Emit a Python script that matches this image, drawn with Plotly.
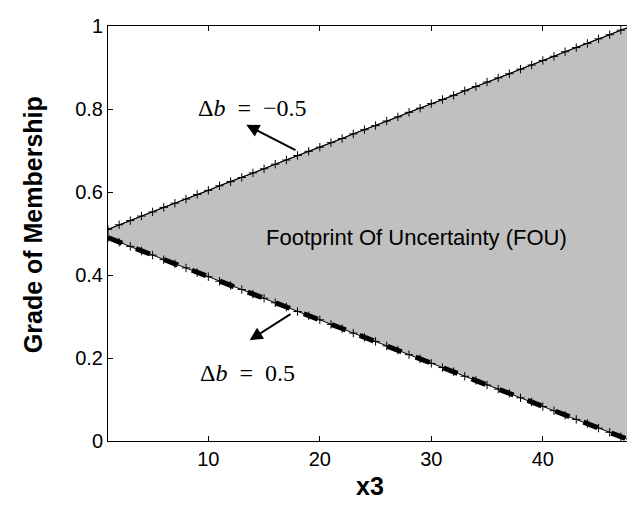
import plotly.graph_objects as go

# x positions of the sampled membership-function points
x_vals = [1, 2, 3, 4, 5, 6, 7, 8, 9, 10, 11, 12, 13, 14, 15, 16, 17, 18, 19, 20,
          21, 22, 23, 24, 25, 26, 27, 28, 29, 30, 31, 32, 33, 34, 35, 36, 37, 38, 39, 40,
          41, 42, 43, 44, 45, 46, 47, 48]
# upper membership function (Δb = -0.5)
upper_mf = [0.510, 0.521, 0.531, 0.542, 0.552, 0.563, 0.573, 0.583, 0.594, 0.604,
            0.615, 0.625, 0.635, 0.646, 0.656, 0.667, 0.677, 0.688, 0.698, 0.708,
            0.719, 0.729, 0.740, 0.750, 0.760, 0.771, 0.781, 0.792, 0.802, 0.813,
            0.823, 0.833, 0.844, 0.854, 0.865, 0.875, 0.885, 0.896, 0.906, 0.917,
            0.927, 0.938, 0.948, 0.958, 0.969, 0.979, 0.990, 1.000]
# lower membership function (Δb = 0.5)
lower_mf = [0.490, 0.479, 0.469, 0.458, 0.448, 0.437, 0.427, 0.417, 0.406, 0.396,
            0.385, 0.375, 0.365, 0.354, 0.344, 0.333, 0.323, 0.312, 0.302, 0.292,
            0.281, 0.271, 0.260, 0.250, 0.240, 0.229, 0.219, 0.208, 0.198, 0.187,
            0.177, 0.167, 0.156, 0.146, 0.135, 0.125, 0.115, 0.104, 0.094, 0.083,
            0.073, 0.062, 0.052, 0.042, 0.031, 0.021, 0.010, 0.000]

x_ticks = [10, 20, 30, 40]
y_ticks = [0, 0.2, 0.4, 0.6, 0.8, 1]
y_tick_text = ["0", "0.2", "0.4", "0.6", "0.8", "1"]

SANS = "Liberation Sans, Arial, sans-serif"

fig = go.Figure()

# lower bound (thick dashed) - base for the fill
fig.add_trace(go.Scatter(x=x_vals, y=lower_mf, mode="lines",
                         line=dict(color="black", width=5, dash="dash"),
                         showlegend=False, hoverinfo="skip"))
# upper bound with FOU fill down to lower
fig.add_trace(go.Scatter(x=x_vals, y=upper_mf, mode="lines",
                         line=dict(color="black", width=1),
                         fill="tonexty", fillcolor="rgb(192,192,192)",
                         showlegend=False))
# marker lines
for ys in (upper_mf, lower_mf):
    fig.add_trace(go.Scatter(x=x_vals, y=ys, mode="lines+markers",
                             line=dict(color="black", width=1),
                             marker=dict(symbol="cross-thin", size=6,
                                         line=dict(color="black", width=1)),
                             showlegend=False))

serif = dict(family="Liberation Serif, DejaVu Serif, serif", size=24, color="black")

# arrows (x,y = head; ax,ay = tail)
fig.add_annotation(x=13.4, y=0.762, ax=17.95, ay=0.699, xref="x", yref="y",
                   axref="x", ayref="y", text="", showarrow=True,
                   arrowhead=2, arrowsize=1.3, arrowwidth=2, arrowcolor="black",
                   standoff=0, startstandoff=0)
fig.add_annotation(x=14.0, y=0.803, text="Δ<i>b</i>\u2002=\u2002−0.5", showarrow=False,
                   font=serif)

fig.add_annotation(x=13.7, y=0.243, ax=17.5, ay=0.308, xref="x", yref="y",
                   axref="x", ayref="y", text="", showarrow=True,
                   arrowhead=2, arrowsize=1.3, arrowwidth=2, arrowcolor="black",
                   standoff=0, startstandoff=0)
fig.add_annotation(x=13.5, y=0.165, text="Δ<i>b</i>\u2002=\u20020.5", showarrow=False,
                   font=serif)

fig.add_annotation(x=28.7, y=0.49, text="Footprint Of Uncertainty (FOU)",
                   showarrow=False,
                   font=dict(family=SANS, size=22, color="black"))

# y-axis title
fig.add_annotation(x=0, y=0.52, xref="paper", yref="paper", xshift=-75,
                   xanchor="center", yanchor="middle",
                   text="<b>Grade of Membership</b>", textangle=-90,
                   showarrow=False,
                   font=dict(family=SANS, size=25, color="black"))

axis_common = dict(showline=True, linecolor="black", linewidth=1, mirror="allticks",
                   ticks="inside", ticklen=5, tickcolor="black", showgrid=False,
                   zeroline=False,
                   tickfont=dict(family=SANS, size=20, color="black"))

fig.update_layout(
    width=627, height=499,
    margin=dict(l=100, r=3, t=18, b=66),
    paper_bgcolor="white", plot_bgcolor="white",
    xaxis=dict(range=[1, 48], tickvals=x_ticks,
               title=dict(text="<b>x3</b>", standoff=8,
                          font=dict(family=SANS, size=25, color="black")),
               **axis_common),
    yaxis=dict(range=[0, 1], tickvals=y_ticks, ticktext=y_tick_text,
               **axis_common),
)

fig.write_html("out.html")
